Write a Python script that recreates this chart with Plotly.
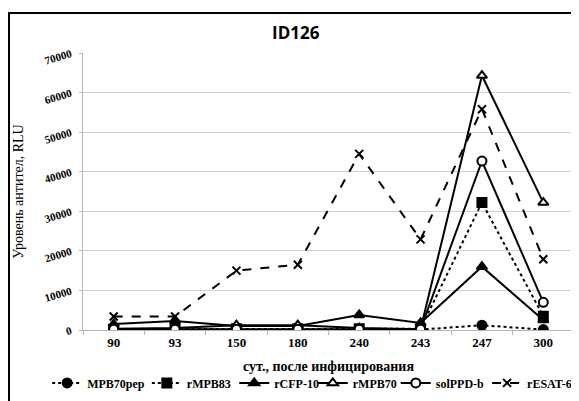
import plotly.graph_objects as go

days = ["90", "93", "150", "180", "240", "243", "247", "300"]
mpb70pep = [100, 100, 100, 100, 100, 100, 1200, 100]
rmpb83 = [200, 200, 300, 300, 300, 300, 32200, 3500]
rcfp10 = [1500, 2300, 1000, 1000, 3800, 1800, 16000, 2500]
rmpb70 = [300, 500, 1200, 1200, 500, 200, 64300, 32200]
solppdb = [200, 200, 200, 200, 200, 200, 42700, 7000]
resat6 = [3400, 3400, 15000, 16500, 44500, 22900, 55800, 17900]
yticks = [0, 10000, 20000, 30000, 40000, 50000, 60000, 70000]

serif = "Liberation Serif"

series = [
    ("MPB70pep", mpb70pep, "dot", "circle", "black"),
    ("rMPB83", rmpb83, "dot", "square", "black"),
    ("rCFP-10", rcfp10, "solid", "triangle-up", "black"),
    ("rMPB70", rmpb70, "solid", "triangle-up", "white"),
    ("solPPD-b", solppdb, "solid", "circle", "white"),
    ("rESAT-6", resat6, "dash", "x-thin", "black"),
]
# horizontal placement of each legend entry (paper units)
legend_x = [-0.073, 0.130, 0.308, 0.468, 0.637, 0.823]

fig = go.Figure()
layout_legends = {}
for i, (name, vals, dash, sym, fill) in enumerate(series):
    lg = "legend" if i == 0 else "legend%d" % (i + 1)
    fig.add_trace(go.Scatter(
        x=days, y=vals, name="<b>%s</b>" % name, mode="lines+markers",
        legend=lg,
        line=dict(color="black", width=2, dash=dash),
        marker=dict(symbol=sym, size=9 if sym != "x-thin" else 8, color=fill,
                    line=dict(color="black", width=2)),
    ))
    layout_legends[lg] = dict(
        orientation="h", x=legend_x[i], xanchor="left", y=-0.191, yanchor="middle",
        font=dict(family=serif, size=12, color="black"),
        itemwidth=30, bgcolor="rgba(0,0,0,0)", borderwidth=0,
    )

fig.update_layout(
    width=571, height=393,
    margin=dict(l=75, r=5, t=45, b=71, autoexpand=False),
    paper_bgcolor="white", plot_bgcolor="white",
    title=dict(text="<b>ID126</b>", x=0.504, xanchor="center", y=0.936, yanchor="middle",
               font=dict(family="Open Sans", size=17, color="black")),
    showlegend=True,
    xaxis=dict(
        type="category", tickmode="array", tickvals=days, ticktext=["<b>%s</b>" % d for d in days],
        showgrid=False, showline=True, linecolor="#b5b5b5", linewidth=1,
        ticks="outside", ticklen=4, tickcolor="#b5b5b5", tickson="boundaries",
        tickfont=dict(family=serif, size=13, color="black"), automargin=False,
        title=dict(text="<b>сут., после инфицирования</b>", standoff=12,
                   font=dict(family=serif, size=14, color="black")),
        range=[-0.5, 7.5],
    ),
    yaxis=dict(
        range=[0, 70000], tickangle=-17,
        tickvals=yticks,
        ticktext=["<b>%d</b>" % v for v in yticks],
        showgrid=True, gridcolor="#d0d0d0", gridwidth=1,
        showline=True, linecolor="#b5b5b5", linewidth=1,
        ticks="outside", ticklen=3, tickcolor="#b5b5b5",
        ticklabelstandoff=6,
        zeroline=False, automargin=False,
        tickfont=dict(family=serif, size=11, color="black"),
        title=dict(text="Уровень антител, RLU", standoff=16,
                   font=dict(family=serif, size=14, color="black")),
    ),
    shapes=[dict(type="rect", xref="paper", yref="paper",
                 x0=-0.1507, x1=1.3, y0=-0.4, y1=1.144,
                 line=dict(color="black", width=2), fillcolor="rgba(0,0,0,0)", layer="below")],
    **layout_legends,
)

fig.write_html("out.html")
